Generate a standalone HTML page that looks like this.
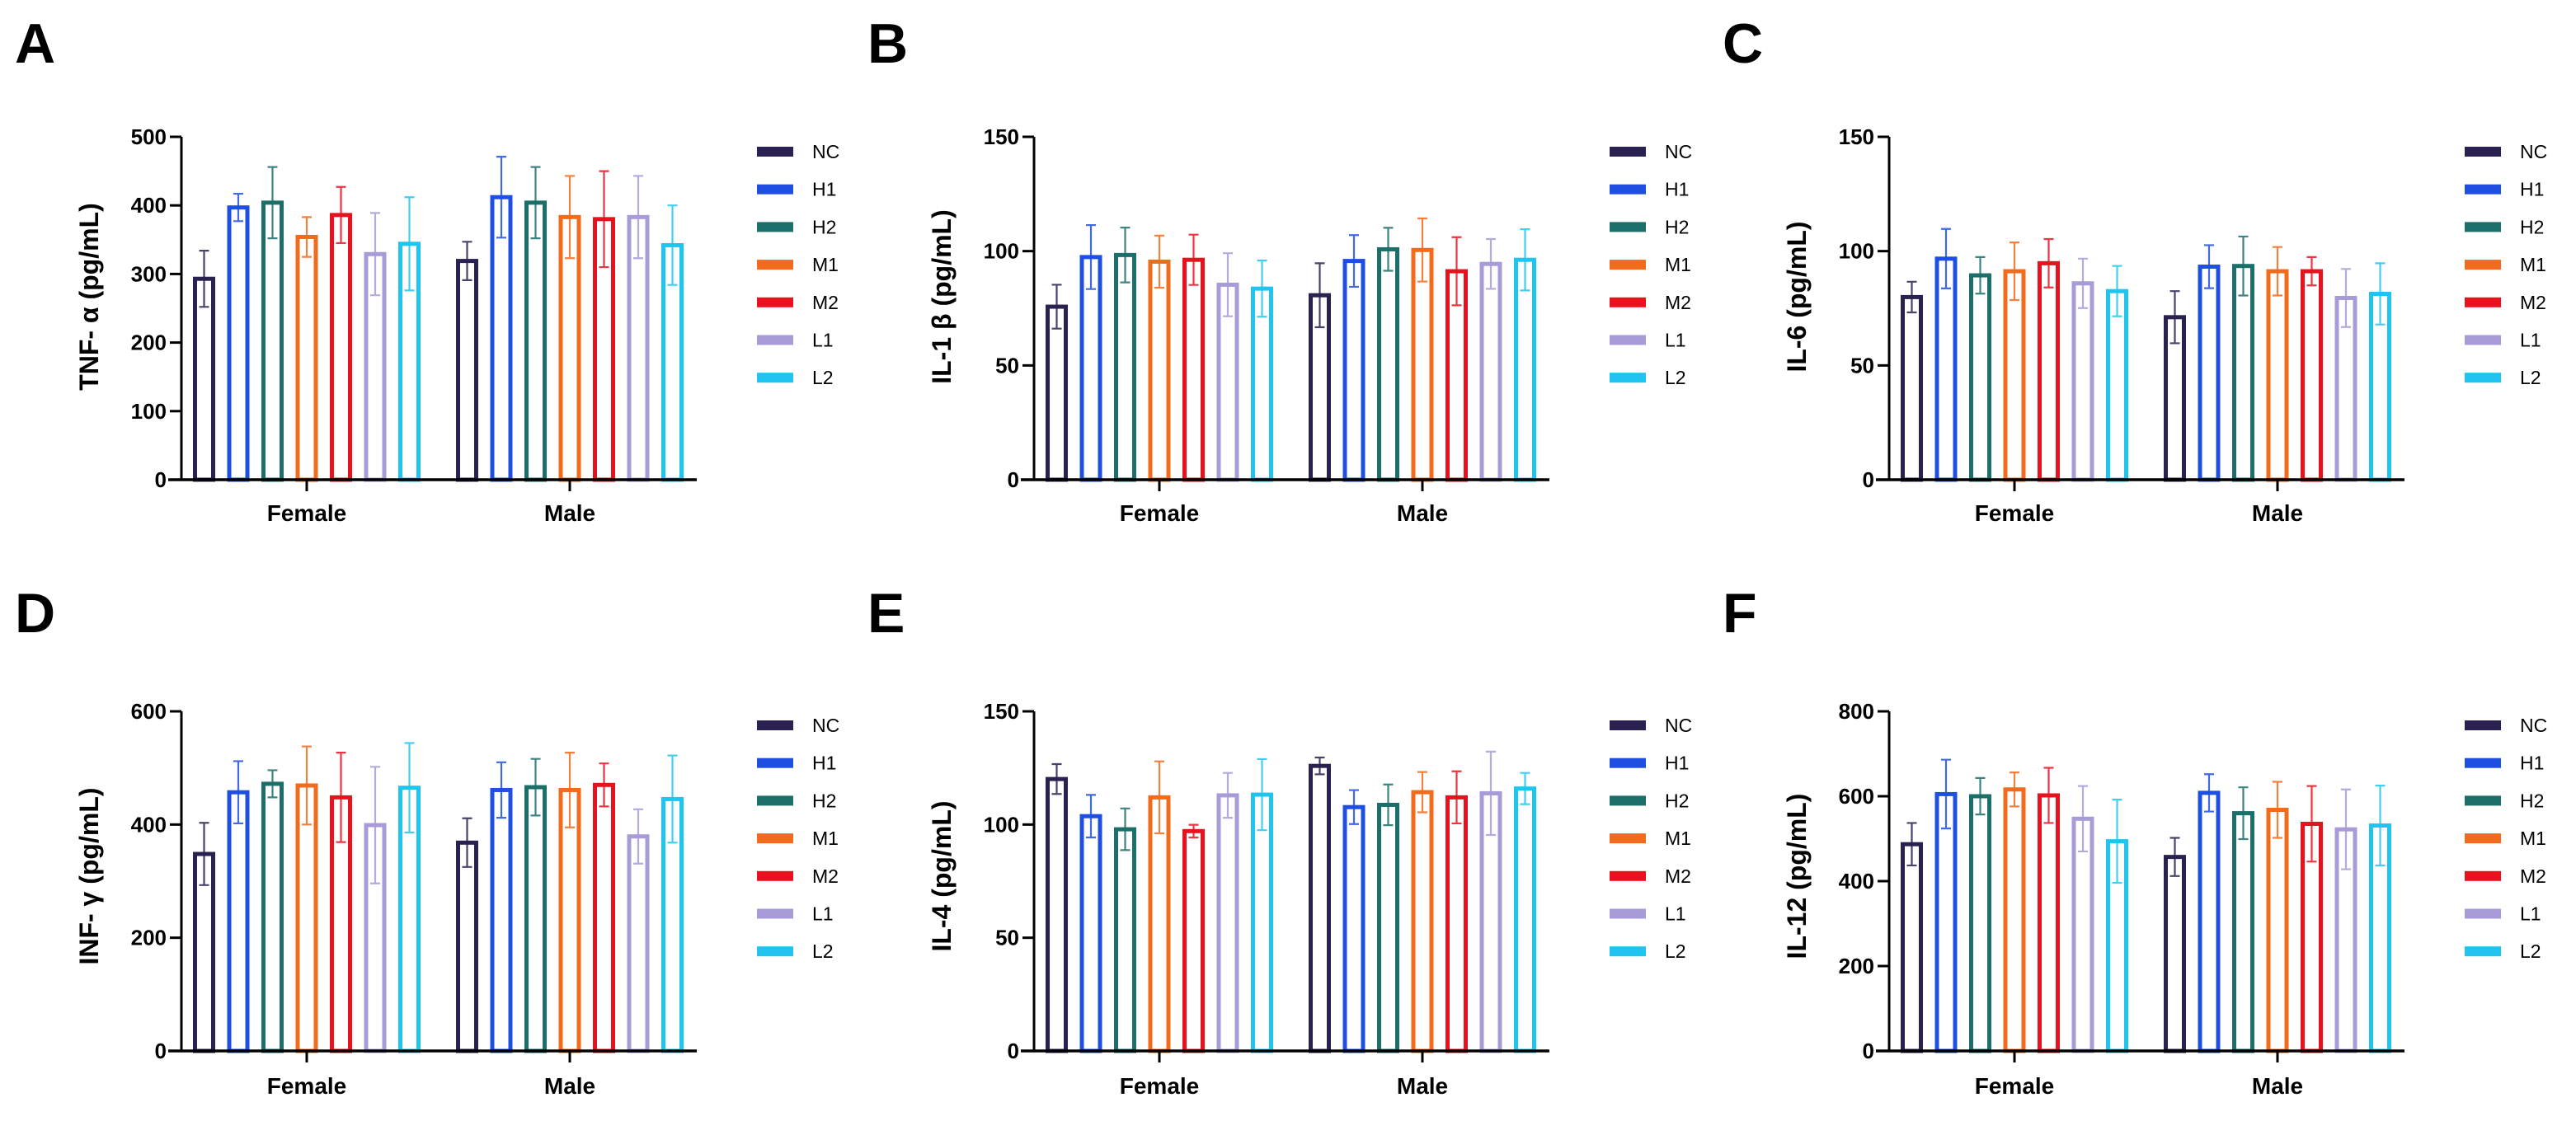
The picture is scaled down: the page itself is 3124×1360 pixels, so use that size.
<!DOCTYPE html>
<html><head><meta charset="utf-8"><style>
html,body{margin:0;padding:0;background:#fff;width:3124px;height:1360px;overflow:hidden}
svg{display:block}
text{font-family:"Liberation Sans",Arial,sans-serif}
</style></head>
<body>
<svg id="fig" width="3124" height="1360" viewBox="0 0 3124 1360" xmlns="http://www.w3.org/2000/svg"></svg>
<script>
const groupNames = ["NC","H1","H2","M1","M2","L1","L2"];
const sexCategories = ["Female","Male"];
const groupColors = ["#2b2150","#1f4fe0","#1b6e6a","#f26a1b","#e8121f","#a89bd8","#1fc5ef"];

const tnfFemaleMean = [293,397,404,354,386,329,344];
const tnfFemaleSd   = [41,20,52,29,41,60,68];
const tnfMaleMean   = [319,412,404,383,380,383,342];
const tnfMaleSd     = [28,59,52,60,70,60,58];
const tnfTicks      = [0,100,200,300,400,500];

const il1FemaleMean = [75.7,97.4,98.3,95.4,96.2,85.3,83.6];
const il1FemaleSd   = [9.6,14,12,11.4,11,13.8,12.3];
const il1MaleMean   = [80.7,95.7,100.8,100.5,91.2,94.4,96.2];
const il1MaleSd     = [14,11.3,9.4,13.8,14.9,10.9,13.4];
const il1Ticks      = [0,50,100,150];

const il6FemaleMean = [79.9,96.7,89.4,91.2,94.7,85.9,82.5];
const il6FemaleSd   = [6.7,13,8,12.6,10.6,10.8,11];
const il6MaleMean   = [71.1,93.2,93.5,91.2,91.2,79.5,81.3];
const il6MaleSd     = [11.4,9.4,12.9,10.6,6.2,12.7,13.4];
const il6Ticks      = [0,50,100,150];

const infFemaleMean = [348,457,472,469,448,399,465];
const infFemaleSd   = [55,55,24,69,79,103,79];
const infMaleMean   = [368,461,466,461,470,379,445];
const infMaleSd     = [43,49,50,66,38,48,77];
const infTicks      = [0,200,400,600];

const il4FemaleMean = [120.1,103.7,97.9,112,97.1,112.9,113.2];
const il4FemaleSd   = [6.6,9.4,9.2,15.9,2.8,9.9,15.7];
const il4MaleMean   = [125.9,107.7,108.7,114.3,112,113.8,115.9];
const il4MaleSd     = [3.7,7.5,9,8.9,11.5,18.4,6.9];
const il4Ticks      = [0,50,100,150];

const il12FemaleMean = [487,605,600,616,602,547,494];
const il12FemaleSd   = [50,81,43,40,65,77,98];
const il12MaleMean   = [457,608,560,568,535,522,531];
const il12MaleSd     = [45,44,61,66,89,94,94];
const il12Ticks      = [0,200,400,600,800];

const panels = [
 {letter:"A",title:"TNF- α (pg/mL)",name:"tnf",ticks:tnfTicks,fm:tnfFemaleMean,fs:tnfFemaleSd,mm:tnfMaleMean,ms:tnfMaleSd},
 {letter:"B",title:"IL-1 β (pg/mL)",name:"il1b",ticks:il1Ticks,fm:il1FemaleMean,fs:il1FemaleSd,mm:il1MaleMean,ms:il1MaleSd},
 {letter:"C",title:"IL-6 (pg/mL)",name:"il6",ticks:il6Ticks,fm:il6FemaleMean,fs:il6FemaleSd,mm:il6MaleMean,ms:il6MaleSd},
 {letter:"D",title:"INF- γ (pg/mL)",name:"infg",ticks:infTicks,fm:infFemaleMean,fs:infFemaleSd,mm:infMaleMean,ms:infMaleSd},
 {letter:"E",title:"IL-4 (pg/mL)",name:"il4",ticks:il4Ticks,fm:il4FemaleMean,fs:il4FemaleSd,mm:il4MaleMean,ms:il4MaleSd},
 {letter:"F",title:"IL-12 (pg/mL)",name:"il12",ticks:il12Ticks,fm:il12FemaleMean,fs:il12FemaleSd,mm:il12MaleMean,ms:il12MaleSd}
];

const NS="http://www.w3.org/2000/svg";
const svg=document.getElementById("fig");
function mk(tag,attrs,parent){const e=document.createElementNS(NS,tag);for(const k in attrs)e.setAttribute(k,attrs[k]);(parent||svg).appendChild(e);return e;}

const colOffsets=[0,1034,2071];
const rows=[{top:166,zero:582,legendY:184,letterY:76,labelY:632},{top:863,zero:1275,legendY:880,letterY:767,labelY:1327}];

panels.forEach((p,pi)=>{
  const col=pi%3,row=rows[Math.floor(pi/3)];
  const ox=colOffsets[col];
  const ax=ox+220;
  const g=mk("g",{});
  
  
  const maxV=p.ticks[p.ticks.length-1];
  const yS=v=>row.zero-(v/maxV)*(row.zero-row.top);
  const letter=mk("text",{x:ox+18,y:row.letterY,"font-size":68,"font-weight":"bold",fill:"#000"},g);
  letter.textContent=p.letter;
  
  
  // bars
  const barW=27,stride=41.5;
  const groupStart=[ax+14,ax+333];
  [[p.fm,p.fs],[p.mm,p.ms]].forEach((ser,si)=>{
    ser[0].forEach((m,i)=>{
      const left=groupStart[si]+i*stride;
      const cx=left+barW/2;
      const yt=yS(m);
      const r=mk("rect",{x:left+2.5,y:yt,width:barW-5,height:row.zero-yt,fill:"#fff",stroke:groupColors[i],"stroke-width":5},g);
      
      
      const sd=ser[1][i];
      const y1=yS(m+sd),y2=yS(Math.max(0,m-sd));
      const eb=mk("path",{d:`M${cx},${y1}V${y2}M${cx-6},${y1}H${cx+6}M${cx-6},${y2}H${cx+6}`,stroke:groupColors[i],"stroke-width":2.2,fill:"none",opacity:0.85},g);
      
      
    });
  });
  // axes
  const ya=mk("line",{x1:ax,y1:row.top,x2:ax,y2:row.zero+1.5,stroke:"#000","stroke-width":3},g);
  
  
  const xa=mk("line",{x1:ax-16,y1:row.zero,x2:ax+625,y2:row.zero,stroke:"#000","stroke-width":3.5},g);
  
  
  p.ticks.forEach(t=>{
    const y=yS(t);
    const tk=mk("line",{x1:ax-14,y1:y,x2:ax,y2:y,stroke:"#000","stroke-width":3},g);
    
    
    const tl=mk("text",{x:ax-18,y:y+9,"font-size":26,"font-weight":"bold","text-anchor":"end",fill:"#000"},g);
    tl.textContent=t;
    
    
  });
  const centers=[ax+152,ax+471];
  sexCategories.forEach((c,ci)=>{
    const tk=mk("line",{x1:centers[ci],y1:row.zero,x2:centers[ci],y2:row.zero+14,stroke:"#000","stroke-width":3},g);
    
    
    const tl=mk("text",{x:centers[ci],y:row.labelY,"font-size":28,"font-weight":"bold","text-anchor":"middle",fill:"#000"},g);
    tl.textContent=c;
    
    
  });
  const tcy=(row.top+row.zero)/2+(pi<3?-3:5);
  const tt=mk("text",{x:ox+130,y:tcy,"font-size":32,"font-weight":"bold","text-anchor":"middle",fill:"#000",transform:`rotate(-90 ${ox+119} ${tcy})`},g);
  tt.textContent=p.title;
  
  
  // legend
  groupNames.forEach((n,i)=>{
    const y=row.legendY+i*45.7;
    const sw=mk("rect",{x:ox+918,y:y-6,width:44,height:12,fill:groupColors[i]},g);
    
    
    const lt=mk("text",{x:ox+985,y:y+8,"font-size":23,fill:"#000"},g);
    lt.textContent=n;
    
    
  });
});
</script>
</body></html>
